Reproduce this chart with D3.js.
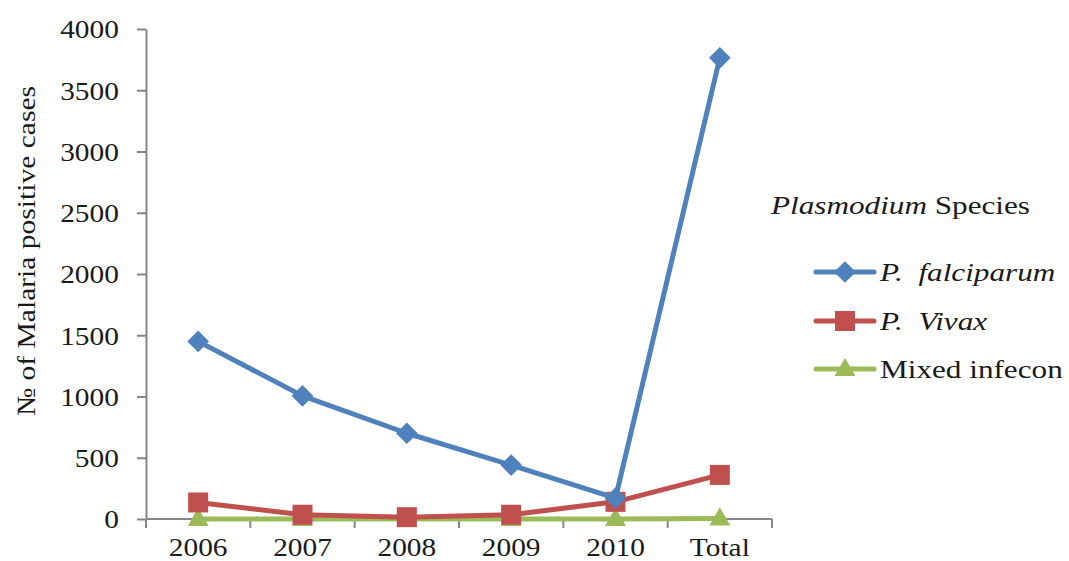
<!DOCTYPE html>
<html>
<head>
<meta charset="utf-8">
<script src="https://cdn.jsdelivr.net/npm/d3@7"></script>
<style>
  body { margin: 0; background: #fff; }
  text { font-family: "Liberation Serif", "Times New Roman", serif; fill: #1a1a1a; }
</style>
</head>
<body>
<svg id="chart" width="1069" height="561"></svg>
<script>
// data
var categories = ["2006", "2007", "2008", "2009", "2010", "Total"];
var falciparum = [1450, 1005, 700, 440, 170, 3765];
var vivax = [135, 35, 15, 35, 140, 360];
var mixed = [1, 1, 1, 1, 1, 5];
var yTicks = [0, 500, 1000, 1500, 2000, 2500, 3000, 3500, 4000];

var seriesList = [
  { name: "falciparum", values: falciparum, color: "#4F81BD", marker: "diamond" },
  { name: "vivax", values: vivax, color: "#C0504D", marker: "square" },
  { name: "mixed", values: mixed, color: "#9BBB59", marker: "triangle" }
];

var svg = d3.select("#chart");

var x = d3.scaleBand().domain(categories).range([146, 772]);
var y = d3.scaleLinear().domain([0, 4000]).range([519, 29]);
var cx = function (c) { return x(c) + x.bandwidth() / 2; };

// text in the picture is a bit wider than the font, stretch it
var tickStretch = 1.13, legendStretch = 1.2;

// y axis
var yAxis = svg.append("g")
  .attr("transform", "translate(146,0)")
  .call(d3.axisLeft(y).tickValues(yTicks).tickFormat(d3.format("d"))
    .tickSize(9).tickPadding(15).tickSizeOuter(0));
yAxis.select(".domain").attr("stroke", "#868686").attr("stroke-width", 2);
yAxis.selectAll(".tick line").attr("stroke", "#868686").attr("stroke-width", 2);
yAxis.selectAll("text").attr("font-size", 26).attr("fill", "#1a1a1a")
  .attr("font-family", "Liberation Serif").attr("dy", "0.34em")
  .attr("transform", "scale(" + tickStretch + ",1)");

// x axis: ticks on category boundaries, labels at centres
var xg = svg.append("g");
xg.append("line")
  .attr("x1", 146).attr("x2", 772).attr("y1", y(0)).attr("y2", y(0))
  .attr("stroke", "#868686").attr("stroke-width", 2);
var edges = categories.map(function (c) { return x(c); }).concat([x.range()[1]]);
xg.selectAll(".xt").data(edges).enter().append("line")
  .attr("x1", function (d) { return d; }).attr("x2", function (d) { return d; })
  .attr("y1", y(0)).attr("y2", y(0) + 9)
  .attr("stroke", "#868686").attr("stroke-width", 2);
xg.selectAll(".xl").data(categories).enter().append("text")
  .attr("transform", function (d) { return "translate(" + cx(d) + ",556) scale(" + tickStretch + ",1)"; })
  .attr("text-anchor", "middle").attr("font-size", 26)
  .text(function (d) { return d; });

// y title
svg.append("text")
  .attr("transform", "translate(35,251) rotate(-90)")
  .attr("text-anchor", "middle").attr("font-size", 26)
  .attr("textLength", 330).attr("lengthAdjust", "spacingAndGlyphs")
  .text("№ of Malaria positive  cases");

// lines
var line = d3.line()
  .x(function (d, i) { return cx(categories[i]); })
  .y(function (d) { return y(d); });

function drawMarker(g, type, color, px, py) {
  if (type === "diamond") {
    g.append("path").attr("d", d3.symbol().type(d3.symbolDiamond2 || d3.symbolDiamond).size(300)())
      .attr("transform", "translate(" + px + "," + py + ")")
      .attr("fill", color);
  } else if (type === "square") {
    g.append("rect").attr("x", px - 10).attr("y", py - 10).attr("width", 20).attr("height", 20)
      .attr("fill", color);
  } else {
    g.append("path").attr("d", d3.symbol().type(d3.symbolTriangle).size(190)())
      .attr("transform", "translate(" + px + "," + (py + 1) + ")")
      .attr("fill", color);
  }
}

seriesList.slice().reverse().forEach(function (s) {
  var g = svg.append("g");
  g.append("path").datum(s.values)
    .attr("d", line).attr("fill", "none")
    .attr("stroke", s.color).attr("stroke-width", 5).attr("stroke-linejoin", "round");
  s.values.forEach(function (v, i) {
    drawMarker(g, s.marker, s.color, cx(categories[i]), y(v));
  });
});

// legend
var lg = svg.append("g");
var title = lg.append("text")
  .attr("transform", "translate(771,214) scale(" + legendStretch + ",1)")
  .attr("font-size", 26);
title.append("tspan").attr("font-style", "italic").text("Plasmodium");
title.append("tspan").text(" Species");

var legendLabels = [
  [{ t: "P.  falciparum", i: true }],
  [{ t: "P.  Vivax", i: true }],
  [{ t: "Mixed infecon", i: false }]
];
var legendY = [272, 321, 369];
seriesList.forEach(function (s, k) {
  var ly = legendY[k];
  lg.append("line").attr("x1", 816).attr("x2", 874).attr("y1", ly).attr("y2", ly)
    .attr("stroke", s.color).attr("stroke-width", 5).attr("stroke-linecap", "round");
  drawMarker(lg, s.marker, s.color, 845, ly);
  var t = lg.append("text")
    .attr("transform", "translate(880," + (ly + 9) + ") scale(" + legendStretch + ",1)")
    .attr("font-size", 26).style("white-space", "pre");
  legendLabels[k].forEach(function (p) {
    t.append("tspan").attr("font-style", p.i ? "italic" : "normal").text(p.t);
  });
});
</script>
</body>
</html>
